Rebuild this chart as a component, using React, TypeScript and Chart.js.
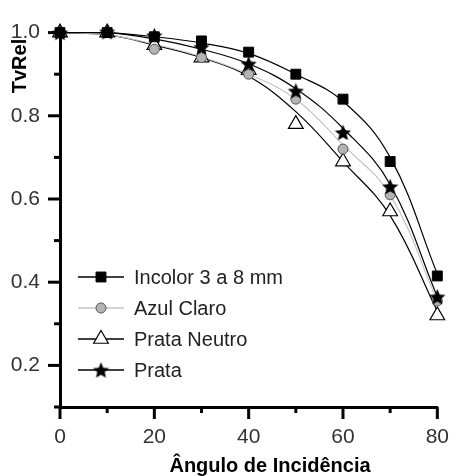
import React, { useEffect, useRef } from 'react';
import { Chart, registerables } from 'chart.js';
import { drawPoint } from 'chart.js/helpers';

Chart.register(...registerables);

const angles = [0, 10, 20, 30, 40, 50, 60, 70, 80];

// measured points (markers)
const incolor = [1.0, 1.0, 0.99, 0.98, 0.953, 0.9, 0.84, 0.69, 0.415];
const azulClaro = [1.0, 1.0, 0.96, 0.94, 0.9, 0.84, 0.72, 0.61, 0.355];
const prataNeutro = [1.0, 1.0, 0.97, 0.94, 0.91, 0.78, 0.69, 0.57, 0.32];
const prata = [1.0, 1.002, 0.993, 0.965, 0.925, 0.86, 0.76, 0.63, 0.365];

// fitted curves (same angles)
const incolorCurve = [1.0, 1.0, 0.99, 0.975, 0.95, 0.9, 0.835, 0.7, 0.42];
const azulClaroCurve = [1.0, 0.995, 0.972, 0.942, 0.9, 0.84, 0.73, 0.61, 0.355];
const prataNeutroCurve = [1.0, 0.995, 0.97, 0.94, 0.895, 0.81, 0.69, 0.56, 0.33];
const prataCurve = [1.0, 1.0, 0.985, 0.96, 0.925, 0.865, 0.77, 0.635, 0.365];

const seriesNames = ['Incolor 3 a 8 mm', 'Azul Claro', 'Prata Neutro', 'Prata'];
const xLabeledTicks = [0, 20, 40, 60, 80];
const yLabeledTicks = [0.2, 0.4, 0.6, 0.8, 1.0];

const FONT = "'Liberation Sans', Arial, sans-serif";

function makeStar(size: number): HTMLCanvasElement {
  const c = document.createElement('canvas');
  c.width = size;
  c.height = size;
  const ctx = c.getContext('2d')!;
  const cx = size / 2;
  const cy = size / 2 + 0.8;
  const R = size / 2;
  const r = R * 0.46;
  ctx.beginPath();
  for (let i = 0; i < 10; i++) {
    const rad = (Math.PI / 5) * i - Math.PI / 2;
    const rr = i % 2 === 0 ? R : r;
    const px = cx + Math.cos(rad) * rr;
    const py = cy + Math.sin(rad) * rr;
    if (i === 0) ctx.moveTo(px, py);
    else ctx.lineTo(px, py);
  }
  ctx.closePath();
  ctx.fillStyle = '#000';
  ctx.fill();
  return c;
}

const isLabeled = (v: number, list: number[]) =>
  list.some((t) => Math.abs(t - v) < 1e-6);

export default function App() {
  const ref = useRef<HTMLCanvasElement>(null);

  useEffect(() => {
    if (!ref.current) return;
    const star = makeStar(17);
    const toPts = (vals: number[]) => angles.map((a, i) => ({ x: a, y: vals[i] }));

    const markerStyles: any[] = [
      { pointStyle: 'rect', pointRadius: 7, pointBackgroundColor: '#000', pointBorderColor: '#000', pointBorderWidth: 1 },
      { pointStyle: 'circle', pointRadius: 5, pointBackgroundColor: '#b4b4b4', pointBorderColor: '#555', pointBorderWidth: 1 },
      { pointStyle: 'triangle', pointRadius: 8.5, pointBackgroundColor: '#fff', pointBorderColor: '#000', pointBorderWidth: 1.2 },
      { pointStyle: star, pointRadius: 8, pointBackgroundColor: '#000', pointBorderColor: '#000', pointBorderWidth: 1 },
    ];
    const lineColors = ['#000', '#c4c4c4', '#000', '#000'];
    const markerData = [incolor, azulClaro, prataNeutro, prata];
    const curveData = [incolorCurve, azulClaroCurve, prataNeutroCurve, prataCurve];
    const markerOrder = [2, 3, 4, 1];

    const datasets: any[] = [];
    seriesNames.forEach((name, i) => {
      datasets.push({
        label: name + ' curve',
        data: toPts(curveData[i]),
        borderColor: lineColors[i],
        borderWidth: 1.2,
        pointRadius: 0,
        tension: 0.4,
        fill: false,
        clip: false,
        order: 10 + i,
      });
    });
    seriesNames.forEach((name, i) => {
      datasets.push({
        label: name,
        data: toPts(markerData[i]),
        showLine: false,
        ...markerStyles[i],
        clip: false,
        order: markerOrder[i],
      });
    });

    const decor = {
      id: 'decor',
      afterDraw(chart: any) {
        const { ctx, chartArea, scales } = chart;
        const xs = scales.x;
        const ys = scales.y;
        ctx.save();
        ctx.strokeStyle = '#000';
        ctx.lineWidth = 3;
        ctx.lineCap = 'butt';
        ys.ticks.forEach((t: any) => {
          const py = ys.getPixelForValue(t.value);
          const len = isLabeled(t.value, yLabeledTicks) ? 12 : 6;
          ctx.beginPath();
          ctx.moveTo(chartArea.left - len, py);
          ctx.lineTo(chartArea.left, py);
          ctx.stroke();
        });
        xs.ticks.forEach((t: any) => {
          const px = xs.getPixelForValue(t.value);
          const len = isLabeled(t.value, xLabeledTicks) ? 12 : 6;
          ctx.beginPath();
          ctx.moveTo(px, chartArea.bottom);
          ctx.lineTo(px, chartArea.bottom + len);
          ctx.stroke();
        });
        ctx.fillStyle = '#000';
        ctx.font = `bold 20px ${FONT}`;
        ctx.textAlign = 'center';
        ctx.textBaseline = 'middle';
        ctx.fillText('Ângulo de Incidência', 270, 466);
        ctx.save();
        ctx.translate(20, 66);
        ctx.rotate(-Math.PI / 2);
        ctx.fillText('TvRel', 0, 0);
        ctx.restore();
        const rows = [277, 308, 339, 370];
        seriesNames.forEach((name, i) => {
          const y = rows[i];
          const ms = markerStyles[i];
          ctx.strokeStyle = lineColors[i];
          ctx.lineWidth = 1.3;
          ctx.beginPath();
          ctx.moveTo(78, y);
          ctx.lineTo(124, y);
          ctx.stroke();
          ctx.fillStyle = ms.pointBackgroundColor;
          ctx.strokeStyle = ms.pointBorderColor;
          ctx.lineWidth = ms.pointBorderWidth;
          drawPoint(ctx, {
            pointStyle: ms.pointStyle,
            radius: ms.pointRadius,
            rotation: 0,
            borderWidth: ms.pointBorderWidth,
          }, 101, y);
          ctx.fillStyle = '#222';
          ctx.font = `20px ${FONT}`;
          ctx.textAlign = 'left';
          ctx.textBaseline = 'middle';
          ctx.fillText(name, 134, y + 1);
        });
        ctx.restore();
      },
    };

    const chart = new Chart(ref.current, {
      type: 'line',
      data: { datasets },
      options: {
        animation: false,
        responsive: false,
        maintainAspectRatio: false,
        layout: { padding: { top: 25, right: 13, left: 0, bottom: 0 } },
        plugins: { legend: { display: false }, tooltip: { enabled: false } },
        scales: {
          x: {
            type: 'linear',
            min: 0,
            max: 80,
            grid: { display: false, drawTicks: false },
            border: { display: true, color: '#000', width: 3 },
            ticks: {
              stepSize: 10,
              padding: 18,
              color: '#333',
              font: { family: FONT, size: 21 },
              maxRotation: 0,
              autoSkip: false,
              callback: (v: any) => (isLabeled(Number(v), xLabeledTicks) ? String(v) : ''),
            },
            afterFit: (s: any) => {
              s.height = 69;
            },
          },
          y: {
            type: 'linear',
            min: 0.1,
            max: 1.0,
            grid: { display: false, drawTicks: false },
            border: { display: true, color: '#000', width: 3 },
            ticks: {
              stepSize: 0.1,
              padding: 20,
              color: '#333',
              font: { family: FONT, size: 21 },
              autoSkip: false,
              callback: (v: any) => {
                const n = Number(v);
                return isLabeled(n, yLabeledTicks) ? n.toFixed(1) : '';
              },
            },
            afterFit: (s: any) => {
              s.width = 60;
            },
          },
        },
      },
      plugins: [decor],
    });

    return () => chart.destroy();
  }, []);

  return (
    <div style={{ position: 'fixed', left: 0, top: 0, width: 467, height: 476, background: '#fff' }}>
      <canvas ref={ref} width={467} height={476} style={{ width: 467, height: 476, display: 'block' }} />
    </div>
  );
}
